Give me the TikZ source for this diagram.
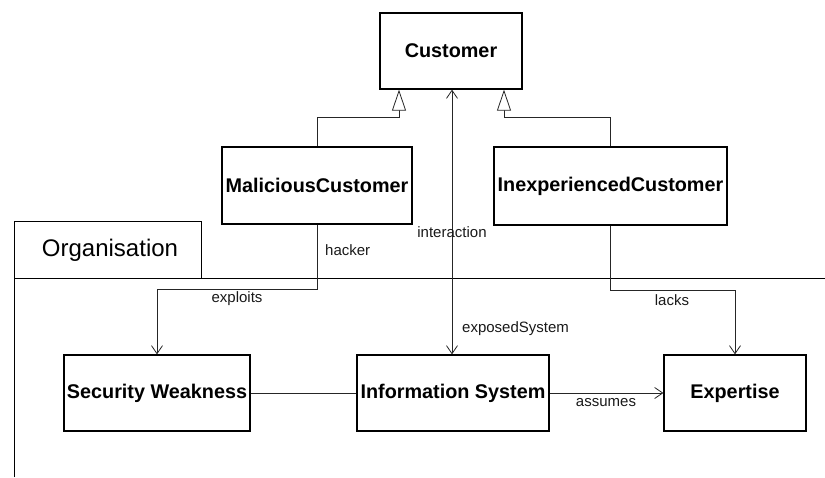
\documentclass[tikz,border=0pt]{standalone}
\usepackage{fontspec}
\setmainfont{Liberation Sans}
\usetikzlibrary{arrows.meta,calc}
\begin{document}
\begin{tikzpicture}[x=1pt,y=-1pt,
  cls/.style={draw=black, line width=1.3pt, fill=white, inner sep=0pt, font=\fontsize{19.8}{23}\selectfont\bfseries},
  conn/.style={draw=black!85, line width=0.8pt},
  assoc/.style={conn, -{Straight Barb[length=8pt,width=11pt,line width=0.8pt]}},
  biassoc/.style={conn, {Straight Barb[length=8pt,width=11pt,line width=0.8pt]}-{Straight Barb[length=8pt,width=11pt,line width=0.8pt]}},
  gen/.style={conn, -{Triangle[open,length=21pt,width=14pt,line width=0.8pt,fill=white]}},
  lbl/.style={font=\fontsize{15}{18}\selectfont, inner sep=0pt, text=black!90},
  frame/.style={draw=black, line width=1pt}
]
\useasboundingbox (0,0) rectangle (825,477);

% Organisation package frame
\draw[frame] (14,477) -- (14,221) -- (201,221) -- (201,278);
\draw[frame] (14,278) -- (825,278);
\node[font=\fontsize{24}{28}\selectfont, inner sep=0pt] (org) at (110,250) {Organisation};

% classes
\node[cls, minimum width=142pt, minimum height=76pt] (cust) at (451,51) {Customer};
\node[cls, minimum width=190pt, minimum height=77pt] (mal) at (317,185.5) {MaliciousCustomer};
\node[cls, minimum width=233pt, minimum height=78pt] (inx) at (610.5,186) {InexperiencedCustomer};
\node[cls, minimum width=186pt, minimum height=76pt] (sw) at (157,393) {Security Weakness};
\node[cls, minimum width=192pt, minimum height=76pt] (is) at (453,393) {Information System};
\node[cls, minimum width=142pt, minimum height=76pt] (exp) at (735,393) {Expertise};

% generalisations
\draw[gen] (mal.north) -- ++(0,-29) -| ([xshift=-52pt]cust.south);
\draw[gen] (inx.north) -- ++(0,-29) -| ([xshift=53pt]cust.south);

% associations
\draw[biassoc] ([xshift=1pt]cust.south) -- ([xshift=-1pt]is.north);
\draw[assoc] (mal.south) -- ++(0,65) -| (sw.north);
\draw[assoc] (inx.south) -- ++(0,65) -| (exp.north);
\draw[conn] (sw.east) -- (is.west);
\draw[assoc] (is.east) -- (exp.west);

% labels
\node[lbl, anchor=west] (lhacker) at (325,250) {hacker};
\node[lbl] (lexploits) at (237,299) {exploits};
\node[lbl] (linter) at (452,232) {interaction};
\node[lbl, anchor=west] (lexposed) at (462,329) {exposedSystem};
\node[lbl] (llacks) at (672,300) {lacks};
\node[lbl] (lassumes) at (606,403) {assumes};
\end{tikzpicture}
\end{document}
